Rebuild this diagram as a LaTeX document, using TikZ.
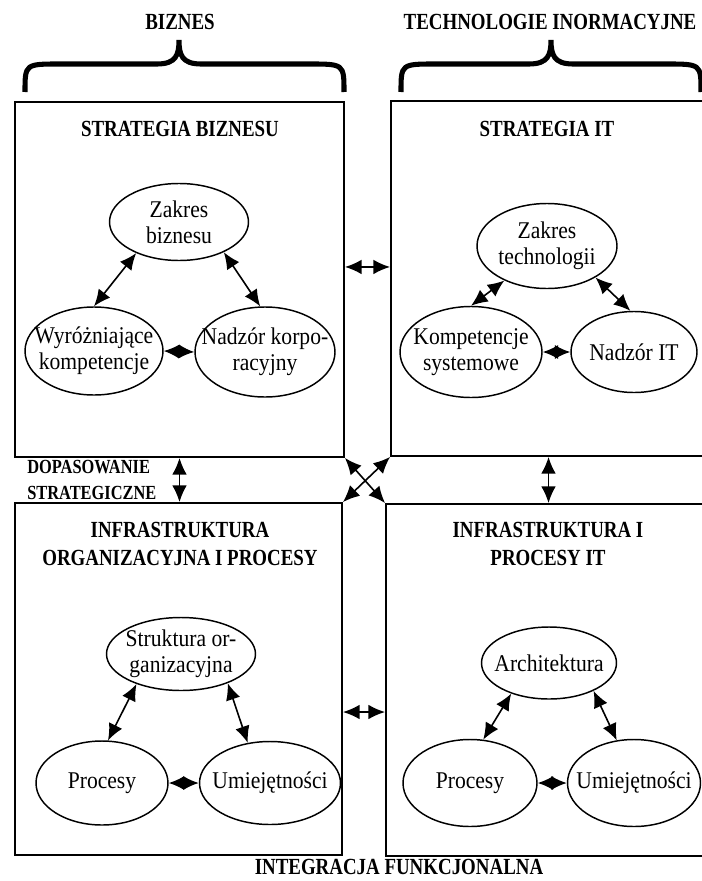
\documentclass[tikz,border=0pt]{standalone}
\usepackage{fontspec}
\setmainfont{Liberation Serif}
\newfontfamily\naglowek[FakeStretch=0.82]{Liberation Serif}
\newfontfamily\tekst[FakeStretch=0.9]{Liberation Serif}
\usetikzlibrary{shapes.geometric,arrows.meta,positioning}

\begin{document}
\begin{tikzpicture}[x=0.75pt,y=-0.75pt,
  blok/.style={draw,line width=1.4pt,inner sep=0pt},
  napis/.style={align=center,inner sep=0pt,font=\tekst\fontsize{18}{19.5}\selectfont},
  elipsa/.style={draw,ellipse,line width=1.1pt,inner sep=0pt,label={[napis]center:#1}},
  tytul/.style={align=center,inner sep=0pt,font=\naglowek\bfseries\fontsize{17.3}{21}\selectfont},
  strz/.style={{Latex[length=12.5pt,width=11pt]}-{Latex[length=12.5pt,width=11pt]},line width=1.2pt},
  romb/.style={{Latex[length=11.5pt,width=10.5pt]}-{Latex[length=11.5pt,width=10.5pt]},line width=1.2pt},
  klamra/.style={line width=3.8pt}]
\useasboundingbox (0,0) rectangle (702,881);

% klamry u gory
\foreach \lx/\sx/\rx in {25/179/344,401/551/701}
  \draw[klamra] (\lx,92) .. controls (\lx,64) .. (\lx+35,64) -- (\sx-22,64)
    .. controls (\sx-3,64) and (\sx,55) .. (\sx,40)
    .. controls (\sx,55) and (\sx+3,64) .. (\sx+22,64) -- (\rx-35,64)
    .. controls (\rx,64) .. (\rx,92);
\node[tytul] (biz) at (180,22) {BIZNES};
\node[tytul] (tech) at (550,22) {TECHNOLOGIE INORMACYJNE};

% cztery bloki
\node[blok,minimum width=246.75pt,minimum height=266.25pt] (sb) at (179.5,279.5) {};
\node[blok,minimum width=236.25pt,minimum height=266.25pt] (sit) at (548.5,278.5) {};
\node[blok,minimum width=245.25pt,minimum height=264pt] (io) at (178.5,679) {};
\node[blok,minimum width=240pt,minimum height=264pt] (iit) at (546,680) {};

\node[tytul] (sbt) at (180,129) {STRATEGIA BIZNESU};
\node[tytul] (sitt) at (547,129) {STRATEGIA IT};
\node[tytul] (iot) at (180,544) {INFRASTRUKTURA\\ORGANIZACYJNA I PROCESY};
\node[tytul] (iitt) at (548,544) {INFRASTRUKTURA I\\PROCESY IT};

% strategia biznesu
\node[elipsa={Zakres\\biznesu},minimum width=104.25pt,minimum height=57.75pt] (zb) at (179,222) {};
\node[elipsa={Wyróżniające\\kompetencje},minimum width=103.5pt,minimum height=66pt] (wk) at (94,351) {};
\node[elipsa={Nadzór korpo-\\racyjny},minimum width=105pt,minimum height=67.5pt] (nk) at (265,352) {};
\draw[strz] (zb.216) -- (wk.north);
\draw[strz] (zb.326) -- (nk.96);
\draw[romb] (wk.east) -- (nk.west);

% strategia IT
\node[elipsa={Zakres\\technologii},minimum width=105pt,minimum height=63.75pt] (zt) at (547,246) {};
\node[elipsa={Kompetencje\\systemowe},minimum width=106.5pt,minimum height=68.25pt] (ks) at (471,352) {};
\node[elipsa={Nadzór IT},minimum width=94.5pt,minimum height=60.75pt] (nit) at (634,352) {};
\draw[strz] (zt.219) -- (ks.north);
\draw[strz] (zt.327) -- (nit.95);
\draw[romb] (ks.east) -- (nit.west);

% infrastruktura organizacyjna
\node[elipsa={Struktura or-\\ganizacyjna},minimum width=111.75pt,minimum height=54.75pt] (so) at (181,654) {};
\node[elipsa={Procesy},minimum width=99pt,minimum height=63pt] (pra) at (102,783) {};
\node[elipsa={Umiejętności},minimum width=105.75pt,minimum height=62.25pt] (uma) at (270,783) {};
\draw[strz] (so.214) -- (pra.82);
\draw[strz] (so.328) -- (uma.119);
\draw[romb] (pra.east) -- (uma.west);

% infrastruktura IT
\node[elipsa={Architektura},minimum width=101.25pt,minimum height=54pt] (ar) at (549,663) {};
\node[elipsa={Procesy},minimum width=100.5pt,minimum height=65.25pt] (prb) at (470,783) {};
\node[elipsa={Umiejętności},minimum width=99.75pt,minimum height=65.25pt] (umb) at (634,783) {};
\draw[strz] (ar.219) -- (prb.73);
\draw[strz] (ar.328) -- (umb.112);
\draw[romb] (prb.east) -- (umb.west);

% powiazania miedzy blokami
\draw[strz] ([yshift=9.4pt]sb.east) -- ([yshift=9.4pt]sb.east -| sit.west);
\draw[strz] ([yshift=-24.75pt]io.east) -- ([yshift=-24.75pt]io.east -| iit.west);
\draw[strz] (sb.south) -- (sb.south |- io.north);
\draw[strz] (sit.south) -- (sit.south |- iit.north);
\draw[strz] (sb.south east) -- (iit.north west);
\draw[strz] (sit.south west) -- (io.north east);

\node[tytul,anchor=west,align=left,font=\naglowek\bfseries\fontsize{15}{19}\selectfont] (dop) at (27,480) {DOPASOWANIE\\STRATEGICZNE};
\node[tytul] (integ) at (399,867) {INTEGRACJA FUNKCJONALNA};
\end{tikzpicture}
\end{document}
